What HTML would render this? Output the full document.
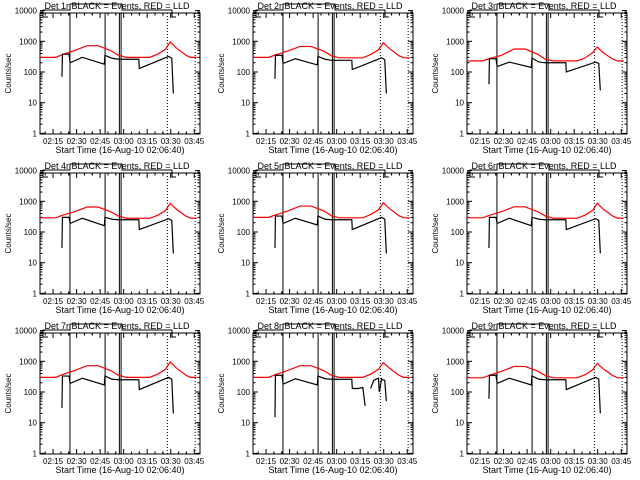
<!DOCTYPE html>
<html><head><meta charset="utf-8"><style>
body{margin:0;background:#fff}
svg{display:block;font-family:"Liberation Sans",sans-serif}
text{font-size:9px;fill:#000}
text.tk{font-size:8px}
</style></head><body>
<svg id="c" width="640" height="480" viewBox="0 0 640 480"></svg>
<script>
const detNames=["Det 1r","Det 2r","Det 3r","Det 4r","Det 5r","Det 6r","Det 7r","Det 8r","Det 9r"];
const xTickLabels=["02:15","02:30","02:45","03:00","03:15","03:30","03:45"];
const xTickMinutes=[8.33,23.33,38.33,53.33,68.33,83.33,98.33];
const yTickValues=[1,10,100,1000,10000];
const yTickLabels=["1","10","100","1000","10000"];
const solidMarkers=[19.1,41.5,50.6,51.7];
const dottedMarkers=[81.2,98.9];
const redTimes=[0,10,15,22,30,37,45,50,55,70,75,80,83,87,93,96,100];
const red1=[300,300,380,500,720,720,500,350,300,300,380,550,950,600,350,300,300];
const red2=[300,300,370,480,680,680,480,340,290,290,370,530,900,580,340,290,290];
const red3=[230,230,280,350,560,560,380,260,230,230,280,420,650,420,260,230,230];
const red4=[290,290,360,460,650,650,460,330,280,280,350,500,850,550,330,280,280];
const red5=[300,300,370,480,700,700,490,340,290,290,370,530,900,580,340,290,290];
const red6=[290,290,360,460,660,660,460,330,280,280,350,500,860,550,330,280,280];
const red7=[300,300,380,500,720,720,500,350,300,300,380,550,950,600,350,300,300];
const red8=[300,300,380,500,720,720,500,350,300,300,380,550,900,600,350,300,300];
const red9=[290,290,360,470,680,680,480,340,290,290,360,520,850,560,340,290,290];
const blackTimes=[14,14.3,18.5,19.2,27,41,41.4,46,50,63,63.3,82,84,85];
const black1=[70,380,380,200,300,180,350,280,260,260,130,320,280,20];
const black2=[60,350,350,190,270,170,320,260,240,240,120,290,250,20];
const black3=[40,270,270,150,210,140,280,210,200,200,100,210,190,25];
const black4=[30,300,300,190,280,160,300,260,250,250,120,270,240,20];
const black5=[30,330,330,190,280,170,330,260,250,250,120,300,260,20];
const black6=[30,300,300,190,280,160,300,260,250,250,120,270,240,20];
const black7=[30,330,330,190,280,170,330,260,250,250,120,300,260,20];
const black8Times=[14,14.3,18.5,19.2,27,41,41.4,46,50,63,63.3,67,70,71.5,null,75,77,79,80,80.5,82,82.5,84,85];
const black8=[15,350,350,180,270,170,330,270,260,260,130,130,140,35,null,130,240,270,280,100,270,250,240,50];
const black9=[60,350,350,190,280,170,330,260,250,250,120,300,260,20];
const reds=[red1,red2,red3,red4,red5,red6,red7,red8,red9];
const blacks=[black1,black2,black3,black4,black5,black6,black7,black8,black9];
const svg=document.getElementById('c');
const NS="http://www.w3.org/2000/svg";
function mk(t,a,p){const e=document.createElementNS(NS,t);for(const k in a)e.setAttribute(k,a[k]);p.appendChild(e);return e;}
const L=40,R=200,T=13,B=134;
const xs=m=>L+m*(R-L)/102;
const ys=v=>B-(Math.log10(v)+0.02)*30.7;
for(let i=0;i<9;i++){
  const ox=[0,213,427][i%3], oy=[0,160,320][Math.floor(i/3)];
  const g=mk('g',{transform:`translate(${ox},${oy})`},svg);
  
  
  const t=mk('text',{x:117,y:9,'text-anchor':'middle'},g);t.textContent=detNames[i]+" BLACK = Events, RED = LLD";
  
  
  const br=mk('polyline',{points:"48,17 43,17 43,10 70,10 70,4 122,4 122,10 172,10 172,17 176,17",fill:'none',stroke:'#000','stroke-width':1},g);
  
  
  const box=mk('rect',{x:L,y:T,width:R-L,height:B-T,fill:'none',stroke:'#000','stroke-width':1},g);
  
  
  yTickValues.forEach((v,k)=>{
    const y=ys(v);
    mk('line',{x1:L,x2:L+5,y1:y,y2:y,stroke:'#000'},g);mk('line',{x1:R,x2:R-5,y1:y,y2:y,stroke:'#000'},g);
    const tx=mk('text',{x:L-3,y:y+3,'text-anchor':'end','class':'tk'},g);tx.textContent=yTickLabels[k];
    
    
    if(k<yTickValues.length-1)for(let j=2;j<10;j++){const yy=ys(v*j);mk('line',{x1:L,x2:L+2.5,y1:yy,y2:yy,stroke:'#000'},g);mk('line',{x1:R,x2:R-2.5,y1:yy,y2:yy,stroke:'#000'},g);}
  });
  xTickMinutes.forEach((m,k)=>{
    const x=xs(m);
    mk('line',{x1:x,x2:x,y1:B,y2:B-5,stroke:'#000'},g);mk('line',{x1:x,x2:x,y1:T,y2:T+5,stroke:'#000'},g);
    for(let j=-2;j<=2;j++){if(!j)continue;const xm=xs(m+j*5);if(xm>L&&xm<R){mk('line',{x1:xm,x2:xm,y1:B,y2:B-2.5,stroke:'#000'},g);mk('line',{x1:xm,x2:xm,y1:T,y2:T+2.5,stroke:'#000'},g);}}
    const tx=mk('text',{x:x,y:B+10,'text-anchor':'middle','class':'tk'},g);tx.textContent=xTickLabels[k];
    
    
  });
  const xt=mk('text',{x:120,y:B+19,'text-anchor':'middle'},g);xt.textContent="Start Time (16-Aug-10 02:06:40)";
  
  
  const yt=mk('text',{x:0,y:0,'text-anchor':'middle','class':'tk',transform:`translate(11,${(T+B)/2}) rotate(-90)`},g);yt.textContent="Counts/sec";
  
  
  solidMarkers.forEach(m=>{const l=mk('line',{x1:xs(m),x2:xs(m),y1:T,y2:B,stroke:'#000'},g);
    
    });
  dottedMarkers.forEach(m=>{const l=mk('line',{x1:xs(m),x2:xs(m),y1:T,y2:B,stroke:'#000','stroke-dasharray':'1,2'},g);
    
    });
  const rp=mk('polyline',{points:redTimes.map((m,k)=>xs(m)+','+ys(reds[i][k])).join(' '),fill:'none',stroke:'#ff0000','stroke-width':1.2},g);
  
  
  const times=i===7?black8Times:blackTimes;
  let segs=[[]];
  times.forEach((m,k)=>{if(m===null){segs.push([]);}else segs[segs.length-1].push(xs(m)+','+ys(blacks[i][k]));});
  segs.forEach(s=>{const bp=mk('polyline',{points:s.join(' '),fill:'none',stroke:'#000','stroke-width':1.2},g);
    
    });
}
</script>
</body></html>
